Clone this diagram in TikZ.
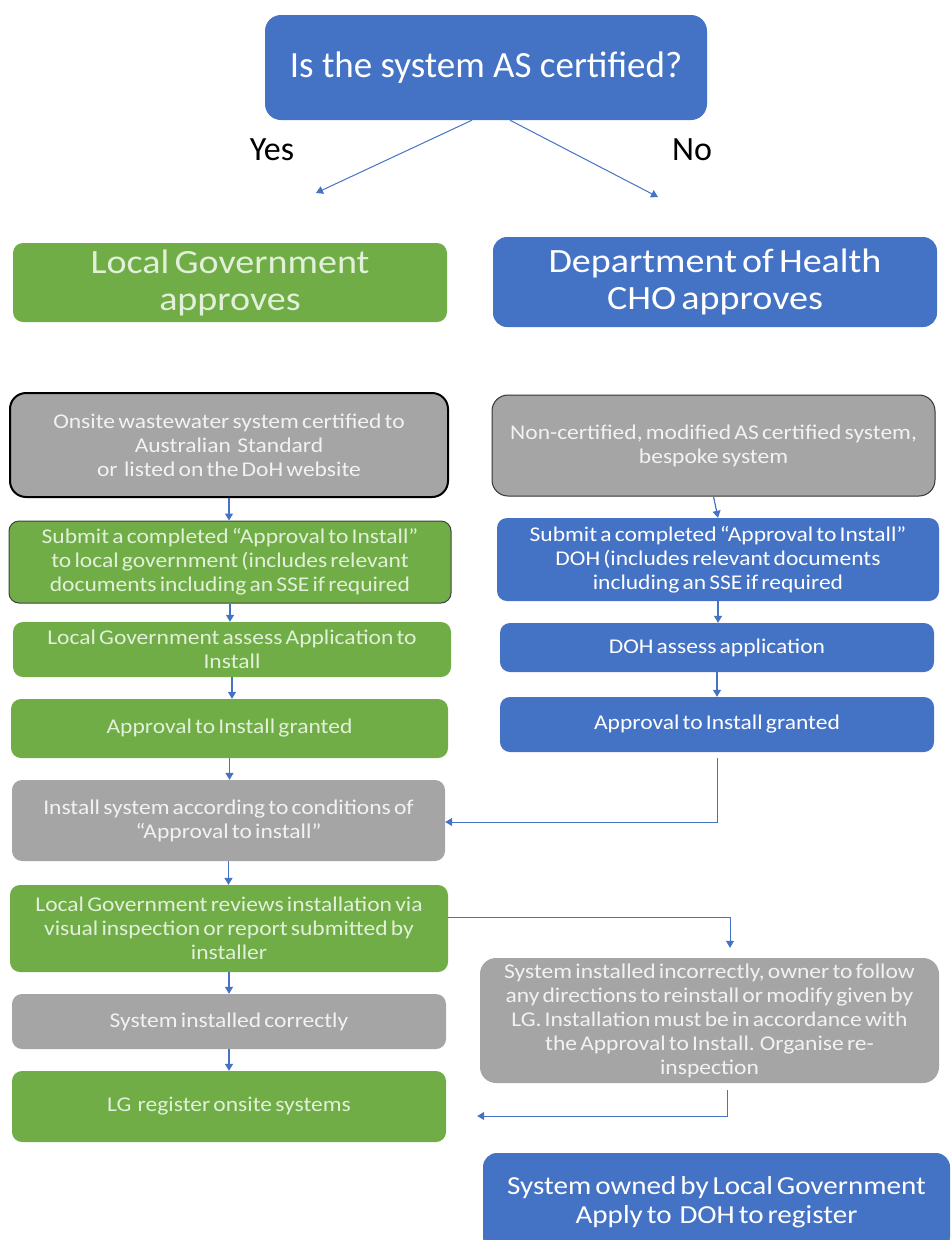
\documentclass[tikz,border=0pt]{standalone}
\usepackage{fontspec}
\setmainfont{Carlito}[FakeStretch=1.12,WordSpace=0.6]
\newfontfamily\titlefont{Carlito}
\usetikzlibrary{arrows.meta}

\definecolor{boxblue}{HTML}{4472C4}
\definecolor{boxgreen}{HTML}{70AD47}
\definecolor{boxgrey}{HTML}{A5A5A5}
\definecolor{greentext}{HTML}{E2F0D9}
\definecolor{greytext}{HTML}{F2F2F2}

\def \boxRadius {10pt}

\tikzset{
  base/.style={rounded corners=\boxRadius, align=center, inner sep=0pt,
    font=\fontsize{21}{24}\selectfont},
  bluebox/.style={base, fill=boxblue, text=white},
  greenbox/.style={base, fill=boxgreen, text=greentext},
  greybox/.style={base, fill=boxgrey, text=greytext},
  boxsize/.style 2 args={minimum width=#1, minimum height=#2},
  headfont/.style={font=\fontsize{34}{37}\selectfont},
  flow/.style={draw=boxblue, line width=1.2pt, -{Triangle[width=8pt,length=7pt]}},
}

\begin{document}
\begin{tikzpicture}[x=1pt,y=-1pt]
  \useasboundingbox (0,0) rectangle (952,1240);
  \clip (0,0) rectangle (952,1240);

  \node[bluebox, boxsize={442}{105}, rounded corners=16pt,
    font=\titlefont\fontsize{37}{44}\selectfont] (q) at (486,67.5) {Is the system AS certified?};
  \node[font=\titlefont\fontsize{34}{40}\selectfont] (yes) at (272,150) {Yes};
  \node[font=\titlefont\fontsize{34}{40}\selectfont] (no) at (692,150) {No};
  \coordinate (yesend) at (316,193);
  \coordinate (noend) at (658,197);
  \draw[flow, line width=1pt] ([xshift=-14pt]q.south) -- (yesend);
  \draw[flow, line width=1pt] ([xshift=24pt]q.south) -- (noend);

  \node[greenbox, headfont, boxsize={434}{79}] (lga) at (230,282.5) {Local Government\\approves};
  \node[bluebox, headfont, boxsize={444}{90}, rounded corners=14pt] (doh) at (715,282) {Department of Health\\CHO approves};

  \node[greybox, boxsize={438}{104}, rounded corners=16pt, draw=black, line width=2pt] (onsite) at (229,445)
    {Onsite wastewater system certified to\\Australian\ \ Standard\\or\ \ listed on the DoH website};
  \node[greenbox, boxsize={442}{82}, draw=black!75, line width=1pt] (submitlg) at (230,562)
    {Submit a completed “Approval to Install”\\to local government (includes relevant\\documents including an SSE if required};
  \node[greenbox, boxsize={438}{55}] (assesslg) at (232,649.5)
    {Local Government assess Application to\\Install};
  \node[greenbox, boxsize={437}{59}] (grantlg) at (229.5,728.5) {Approval to Install granted};
  \node[greybox, boxsize={433}{81}] (install) at (228.5,820.5)
    {Install system according to conditions of\\“Approval to install”};
  \node[greenbox, boxsize={438}{87}] (review) at (229,928.5)
    {Local Government reviews installation via\\visual inspection or report submitted by\\installer};
  \node[greybox, boxsize={434}{55}] (correct) at (229,1021.5) {System installed correctly};
  \node[greenbox, boxsize={434}{71}] (register) at (229,1106.5) {LG\ \ register onsite systems};

  \node[greybox, boxsize={443}{101}, rounded corners=16pt, draw=black!80, line width=1pt] (noncert) at (713.5,445.5)
    {Non-certified, modified AS certified system,\\bespoke system};
  \node[bluebox, boxsize={442}{83}] (submitdoh) at (718,559.5)
    {Submit a completed “Approval to Install”\\DOH (includes relevant documents\\including an SSE if required};
  \node[bluebox, boxsize={434}{49}] (assessdoh) at (717,647.5) {DOH assess application};
  \node[bluebox, boxsize={434}{55}] (grantdoh) at (717,724.5) {Approval to Install granted};

  \node[greybox, boxsize={459}{125}, rounded corners=16pt] (incorrect) at (709.5,1020.5)
    {System installed incorrectly, owner to follow\\any directions to reinstall or modify given by\\LG. Installation must be in accordance with\\the Approval to Install. Organise re-\\inspection};
  \node[bluebox, boxsize={467}{98}, rounded corners=14pt, font=\fontsize{26}{29}\selectfont] (owned) at (716.5,1202)
    {System owned by Local Government\\Apply to\ \ DOH to register};

  \draw[flow] (onsite.south) -- (onsite.south |- submitlg.north);
  \draw[flow] (submitlg.south) -- (submitlg.south |- assesslg.north);
  \draw[flow] (assesslg.south) -- (assesslg.south |- grantlg.north);
  \draw[flow] (grantlg.south) -- (grantlg.south |- install.north);
  \draw[flow] (install.south) -- (install.south |- review.north);
  \draw[flow] (review.south) -- (review.south |- correct.north);
  \draw[flow] (correct.south) -- (correct.south |- register.north);

  \draw[flow] (noncert.south) -- (submitdoh.north);
  \draw[flow] (submitdoh.south) -- (submitdoh.south |- assessdoh.north);
  \draw[flow] (assessdoh.south) -- (assessdoh.south |- grantdoh.north);
  \draw[flow, line width=1pt, shorten <=6pt] (grantdoh.south) |- ([yshift=-1.5pt]install.east);
  \draw[flow, line width=1pt, shorten >=10pt] ([yshift=11.5pt]review.east) -| ([xshift=20.5pt]incorrect.north);
  \draw[flow, line width=1pt, shorten <=7pt, shorten >=31pt] ([xshift=17.5pt]incorrect.south) |- ([yshift=-9.5pt]register.east);
\end{tikzpicture}
\end{document}
